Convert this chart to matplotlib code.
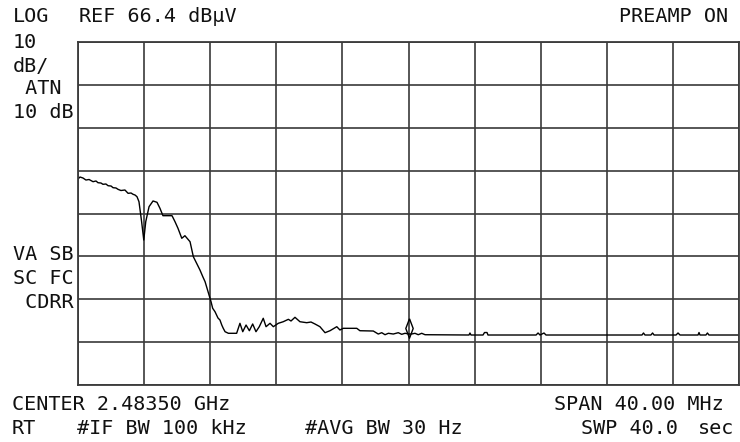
import numpy as np
import matplotlib
matplotlib.use('Agg')
import matplotlib.pyplot as plt

# Analyzer settings
center_mhz = 2483.5
span_mhz = 40.0
ref_level = 66.4      # dBuV, top of screen
db_per_div = 10.0

# Trace (frequency in MHz, level in dBuV)
freq_mhz = [2463.50, 2463.62, 2463.80, 2463.98, 2464.17, 2464.41, 2464.59, 2464.71, 2464.89, 2465.01,
            2465.19, 2465.32, 2465.50, 2465.62, 2465.80, 2465.92, 2466.10, 2466.34, 2466.53, 2466.71,
            2466.83, 2466.95, 2467.07, 2467.19, 2467.35, 2467.48, 2467.60, 2467.80, 2468.04, 2468.28,
            2468.46, 2468.64, 2468.95, 2469.19, 2469.37, 2469.55, 2469.78, 2469.97, 2470.28, 2470.48,
            2470.70, 2470.88, 2471.06, 2471.19, 2471.37, 2471.55, 2471.65, 2471.79, 2471.97, 2472.09,
            2472.20, 2472.29, 2472.40, 2472.60, 2473.10, 2473.30, 2473.47, 2473.67, 2473.87, 2474.07,
            2474.27, 2474.47, 2474.71, 2474.88, 2475.12, 2475.32, 2475.62, 2475.92, 2476.23, 2476.39,
            2476.63, 2476.93, 2477.34, 2477.60, 2477.84, 2478.14, 2478.45, 2478.75, 2479.16, 2479.35,
            2479.55, 2480.37, 2480.56, 2481.37, 2481.67, 2481.88, 2482.08, 2482.28, 2482.58, 2482.88,
            2483.09, 2483.29, 2483.53, 2483.69, 2483.89, 2484.09, 2484.30, 2484.50, 2487.16, 2487.22,
            2487.28, 2488.01, 2488.10, 2488.25, 2488.31, 2491.22, 2491.34, 2491.46, 2491.70, 2491.82,
            2497.63, 2497.72, 2497.81, 2498.17, 2498.27, 2498.36, 2499.69, 2499.81, 2499.93, 2501.02,
            2501.08, 2501.14, 2501.50, 2501.59, 2501.68, 2503.50]
level_dbuv = [34.45, 34.91, 34.68, 34.21, 34.33, 33.82, 33.98, 33.58, 33.51, 33.21,
              33.28, 32.88, 32.81, 32.42, 32.35, 32.04, 31.76, 31.88, 31.11, 31.18,
              30.88, 30.71, 30.32, 29.15, 24.49, 20.22, 24.49, 27.99, 29.32, 29.01,
              27.61, 25.89, 25.89, 25.89, 24.49, 22.95, 20.62, 21.22, 19.82, 16.32,
              14.62, 13.22, 11.59, 10.49, 8.16, 5.83, 4.29, 3.50, 2.03, 1.56,
              0.39, -0.38, -1.17, -1.54, -1.54, 0.79, -1.17, 0.39, -0.94, 0.63,
              -1.17, 0.00, 1.96, 0.00, 0.79, 0.00, 0.79, 1.16, 1.72, 1.33,
              2.19, 1.16, 0.93, 1.09, 0.63, 0.00, -1.40, -0.94, 0.00, -0.77,
              -0.38, -0.38, -0.94, -1.01, -1.71, -1.40, -1.87, -1.54, -1.71, -1.40,
              -1.78, -1.54, -1.71, -1.71, -1.54, -1.87, -1.54, -1.87, -1.94, -1.47,
              -1.94, -1.94, -1.36, -1.36, -1.94, -1.94, -1.47, -1.94, -1.47, -1.94,
              -1.94, -1.47, -1.94, -1.94, -1.47, -1.94, -1.94, -1.47, -1.94, -1.94,
              -1.36, -1.94, -1.94, -1.47, -1.94, -1.94]

# marker position
marker_mhz = 2483.53
marker_dbuv = -0.31

# screen annotations
top_left = ['LOG', 'REF 66.4 dBµV']
top_right = 'PREAMP ON'
side_top = ['10', 'dB/', ' ATN', '10 dB']
side_bottom = ['VA SB', 'SC FC', ' CDRR']
bottom_row1 = ['CENTER 2.48350 GHz', 'SPAN 40.00 MHz']
bottom_row2 = ['RT', '#IF BW 100 kHz', '#AVG BW 30 Hz', 'SWP 40.0', 'sec']

W, H = 740, 442
fig = plt.figure(figsize=(W / 100, H / 100), dpi=100)
ax = fig.add_axes([78 / W, 1 - 385 / H, 661 / W, 343 / H])

f_start = center_mhz - span_mhz / 2
f_stop = center_mhz + span_mhz / 2
bottom = ref_level - 8 * db_per_div
ax.set_xlim(f_start, f_stop)
ax.set_ylim(bottom, ref_level)
ax.set_xticks(np.linspace(f_start, f_stop, 11))
ax.set_yticks(np.linspace(bottom, ref_level, 9))
ax.tick_params(length=0, labelbottom=False, labelleft=False)
ax.grid(True, color='#3a3a3a', linewidth=1.2)
for s in ax.spines.values():
    s.set_color('#3a3a3a')
    s.set_linewidth(1.3)

ax.plot(freq_mhz, level_dbuv, color='black', linewidth=1.0)
diamond = [(0, 1), (0.38, 0), (0, -1), (-0.38, 0), (0, 1)]
ax.plot([marker_mhz], [marker_dbuv], marker=diamond, markersize=14,
        markerfacecolor='none', markeredgecolor='black', markeredgewidth=1.0)

fs = 14.5
font = dict(family='DejaVu Sans Mono', fontsize=fs, color='#111111', va='center')

def put(x, y, s, ha='left'):
    fig.text(x / W, 1 - y / H, s, ha=ha, **font)

put(13, 16, top_left[0])
put(79, 16, top_left[1])
put(728, 16, top_right, ha='right')

for s, y in zip(side_top, [42, 67, 89, 113]):
    put(13, y, s)
for s, y in zip(side_bottom, [254, 278, 302]):
    put(13, y, s)

put(12, 404, bottom_row1[0])
put(724, 404, bottom_row1[1], ha='right')

put(12, 428, bottom_row2[0])
put(77, 428, bottom_row2[1])
put(305, 428, bottom_row2[2])
put(678, 428, bottom_row2[3], ha='right')
put(734, 428, bottom_row2[4], ha='right')

fig.savefig('out.png', dpi=100)
